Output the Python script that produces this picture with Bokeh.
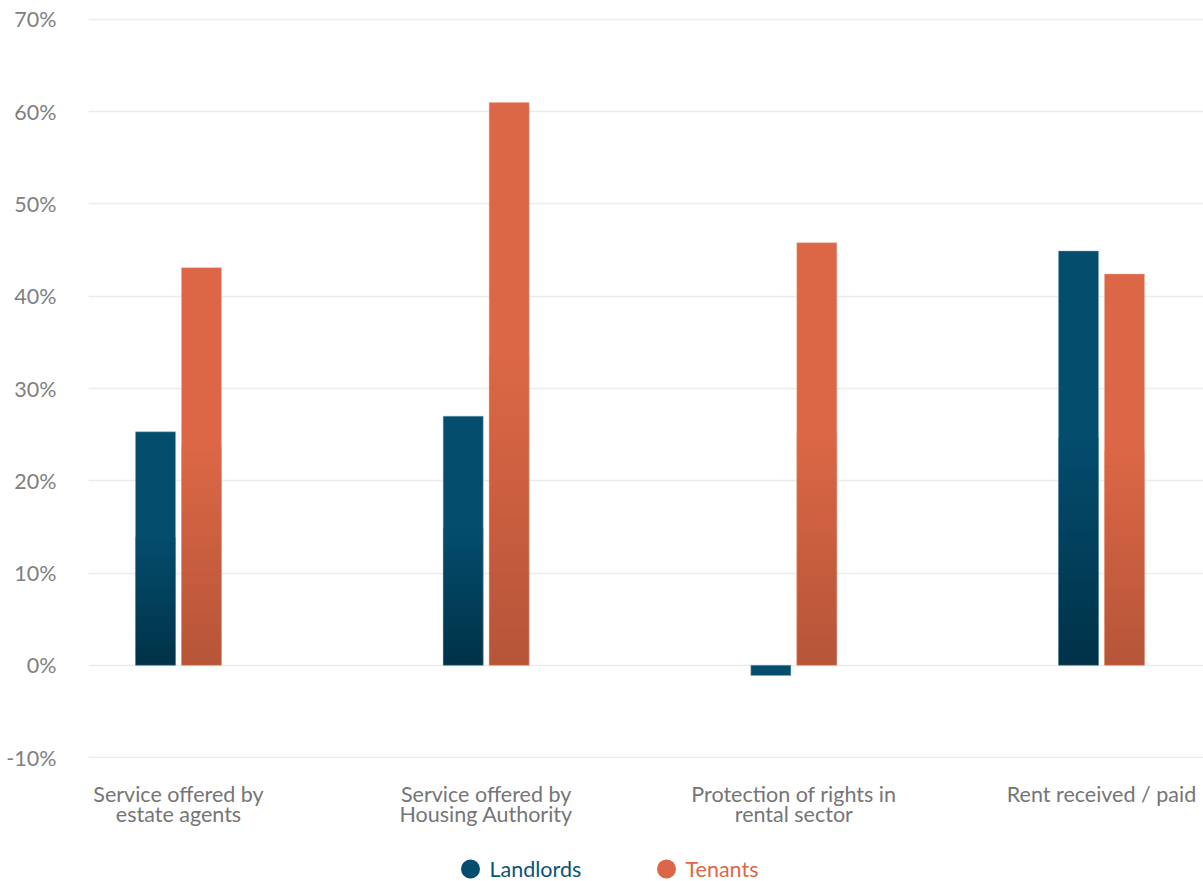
from bokeh.plotting import figure
from bokeh.layouts import column
from bokeh.models import Range1d, FixedTicker
from bokeh.core.properties import value
from bokeh.embed import file_html
from bokeh.resources import INLINE

# ---- data ----
categories = [
    "Service offered by\nestate agents",
    "Service offered by\nHousing Authority",
    "Protection of rights in\nrental sector",
    "Rent received / paid",
]
landlords = [25.3, 27.0, -1.1, 44.9]
tenants = [43.1, 61.0, 45.8, 42.4]
y_ticks = [-10, 0, 10, 20, 30, 40, 50, 60, 70]
y_tick_labels = ["-10%", "0%", "10%", "20%", "30%", "40%", "50%", "60%", "70%"]
series_names = ["Landlords", "Tenants"]

# ---- styling ----
FONT = "Lato"
FS = "21.5px"
BLUE, BLUE_DARK = (4, 77, 109), (0, 50, 72)
ORANGE, ORANGE_DARK = (219, 103, 70), (182, 85, 56)
BAR_W = 0.13
OFFSET = 0.0747
GRAD_FRAC = 0.55
N_SLICES = 40
W, H_MAIN, H_LEG = 1203, 851, 30
FRAME_L = 88


def hexc(c):
    return "#%02x%02x%02x" % tuple(int(round(v)) for v in c)


def mix(a, b, t):
    return tuple(a[i] + (b[i] - a[i]) * t for i in range(3))


p = figure(
    width=W, height=H_MAIN,
    output_backend="svg", toolbar_location=None,
    x_range=Range1d(-0.2925, 3.3315), y_range=Range1d(-10.1, 70.1),
    min_border_top=18, min_border_left=FRAME_L, min_border_right=0,
    min_border_bottom=H_MAIN - 758,
)
p.outline_line_color = None
p.background_fill_color = "white"
p.border_fill_color = "white"

xs = list(range(len(categories)))


def draw_series(vals, off, base, dark, outline):
    xpos = [x + off for x in xs]
    zeros = [0] * len(vals)
    p.vbar(x=xpos, width=BAR_W, top=vals, bottom=zeros,
           fill_color=hexc(base), line_color=None)
    # gradient over the lower part of each positive bar
    for i in range(N_SLICES):
        t0 = i / N_SLICES
        t1 = (i + 1) / N_SLICES
        col = hexc(mix(dark, base, (t0 + t1) / 2))
        bots, tops = [], []
        for v in vals:
            gh = v * GRAD_FRAC if v > 0 else 0
            bots.append(gh * t0)
            tops.append(min(gh * t1 + 0.05, gh))
        p.vbar(x=xpos, width=BAR_W, top=tops, bottom=bots,
               fill_color=col, line_color=None)
    p.vbar(x=xpos, width=BAR_W, top=vals, bottom=zeros,
           fill_alpha=0, line_color=outline, line_width=1, line_alpha=0.45)


draw_series(landlords, -OFFSET, BLUE, BLUE_DARK, "#7aa8bf")
draw_series(tenants, OFFSET, ORANGE, ORANGE_DARK, "#f2ab93")

# axes
p.xaxis.ticker = FixedTicker(ticks=xs)
p.xaxis.major_label_overrides = {x: c for x, c in zip(xs, categories)}
p.xaxis.axis_line_color = None
p.xaxis.major_tick_line_color = None
p.xaxis.minor_tick_line_color = None
p.xaxis.major_label_standoff = 16
p.xaxis.major_label_text_font = FONT
p.xaxis.major_label_text_font_size = FS
p.xaxis.major_label_text_line_height = 0.78
p.xaxis.major_label_text_color = "#757575"

p.yaxis.ticker = FixedTicker(ticks=y_ticks)
p.yaxis.major_label_overrides = {t: l for t, l in zip(y_ticks, y_tick_labels)}
p.yaxis.axis_line_color = None
p.yaxis.major_tick_line_color = None
p.yaxis.minor_tick_line_color = None
p.yaxis.major_label_standoff = 26
p.yaxis.major_label_text_font = FONT
p.yaxis.major_label_text_font_size = FS
p.yaxis.major_label_text_color = "#808080"

p.xgrid.grid_line_color = None
p.ygrid.ticker = FixedTicker(ticks=y_ticks)
p.ygrid.grid_line_color = "#ebebeb"
p.ygrid.grid_line_width = 1.5

# ---- legend strip (x in page pixels; frame aligned with main plot) ----
leg = figure(
    width=W, height=H_LEG, output_backend="svg", toolbar_location=None,
    x_range=Range1d(FRAME_L, W), y_range=Range1d(0, H_LEG),
    x_axis_type=None, y_axis_type=None,
    min_border=0, min_border_left=FRAME_L, min_border_right=0,
    min_border_top=0, min_border_bottom=0,
)
leg.outline_line_color = None
leg.xgrid.grid_line_color = None
leg.ygrid.grid_line_color = None

leg_x = [470, 666]
leg_colors = [hexc(BLUE), hexc(ORANGE)]
leg_text_colors = ["#0c5375", "#db6746"]
leg.scatter(x=leg_x, y=[12.5, 12.5], marker="circle", size=19,
            fill_color=leg_colors, line_color=None)
leg.text(x=[x + 19 for x in leg_x], y=[12.5, 12.5], text=series_names,
         text_color=leg_text_colors, text_font=value(FONT),
         text_font_size=FS, text_baseline="middle", text_align="left")

layout = column(p, leg, spacing=0)
open("out.html", "w").write(file_html(layout, INLINE))
